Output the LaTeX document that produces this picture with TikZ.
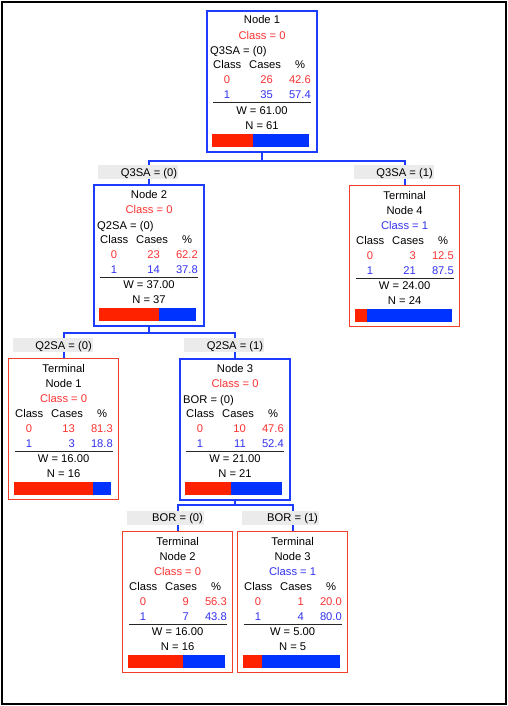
\documentclass[tikz,border=0pt]{standalone}
\usepackage{fontspec}
\setmainfont{Liberation Sans}
\usetikzlibrary{calc,backgrounds}
\definecolor{boxblue}{RGB}{30,60,255}
\definecolor{termred}{RGB}{240,64,40}
\definecolor{redtxt}{RGB}{250,50,50}
\definecolor{bluetxt}{RGB}{50,50,240}
\definecolor{barred}{RGB}{255,34,0}
\definecolor{barblue}{RGB}{0,51,255}
\definecolor{lblgray}{RGB}{235,235,235}
\newcommand\Stats[8]{%
  \node[txt,anchor=west] (#1-hc) at ($(#1.north west)+(7,55)$) {Class};
  \node[txt,anchor=west] (#1-hn) at ($(#1.north west)+(43,55)$) {Cases};
  \node[txt] (#1-hp) at ($(#1.north west)+(94,55)$) {\%};
  \node[txt,text=redtxt] (#1-a0) at ($(#1.north west)+(21,70)$) {0};
  \node[txt,text=redtxt,anchor=east] (#1-b0) at ($(#1.north west)+(67,70)$) {#2};
  \node[txt,text=redtxt,anchor=east] (#1-c0) at ($(#1.north west)+(105,70)$) {#3};
  \node[txt,text=bluetxt] (#1-a1) at ($(#1.north west)+(21,85)$) {1};
  \node[txt,text=bluetxt,anchor=east] (#1-b1) at ($(#1.north west)+(67,85)$) {#4};
  \node[txt,text=bluetxt,anchor=east] (#1-c1) at ($(#1.north west)+(105,85)$) {#5};
  \draw[seprule] ($(#1.north west)+(7,93)$) -- ($(#1.north west)+(105,93)$);
  \node[txt] (#1-w) at ($(#1.north)+(0,100)$) {W = #6};
  \node[txt] (#1-n) at ($(#1.north)+(0,115)$) {N = #7};
  \fill[barred] ($(#1.north west)+(6,124)$) rectangle ($(#1.north west)+(6+97*#8,137)$);
  \fill[barblue] ($(#1.north west)+(6+97*#8,124)$) rectangle ($(#1.north west)+(103,137)$);
}
\newcommand\SplitHead[4]{% name, node label, class line, split
  \node[txt] (#1-l1) at ($(#1.north)+(0,10)$) {#2};
  \node[txt] (#1-l2) at ($(#1.north)+(0,25.5)$) {#3};
  \node[txt,anchor=west] (#1-l3) at ($(#1.north west)+(4,41)$) {#4};
}
\newcommand\TermHead[3]{% name, node label, class line
  \node[txt] (#1-l1) at ($(#1.north)+(0,10)$) {Terminal};
  \node[txt] (#1-l2) at ($(#1.north)+(0,25)$) {#2};
  \node[txt] (#1-l3) at ($(#1.north)+(0,40.5)$) {#3};
}
\begin{document}
\begin{tikzpicture}[x=1pt,y=-1pt,
  txt/.style={inner sep=0pt,text height=8pt,text depth=0pt,font=\fontsize{11.2}{13}\selectfont},
  splitbox/.style={draw=boxblue,line width=2pt,minimum width=110pt,minimum height=141pt,inner sep=0pt,anchor=north west},
  termbox/.style={draw=termred,line width=1.2pt,minimum width=110pt,minimum height=141pt,inner sep=0pt,anchor=north west},
  seprule/.style={draw=black!85,line width=1pt},
  conn/.style={draw=boxblue,line width=2pt},
  lbltxt/.style={txt},
  lblfill/.style={fill=lblgray}]
\useasboundingbox (0,0) rectangle (508,706);
\draw[black,line width=1.4pt] (2,2) rectangle (506,704);

% boxes
\node[splitbox] (n1) at (206,10) {};
\node[splitbox] (n2) at (93,184) {};
\node[termbox] (t4) at (349,185) {};
\node[termbox] (t1) at (8,358) {};
\node[splitbox] (n3) at (179,358) {};
\node[termbox] (t2) at (122,531) {};
\node[termbox] (t3) at (237,531) {};

\SplitHead{n1}{Node 1}{\textcolor{redtxt}{Class = 0}}{Q3SA = (0)}
\Stats{n1}{26}{42.6}{35}{57.4}{61.00}{61}{0.426}
\SplitHead{n2}{Node 2}{\textcolor{redtxt}{Class = 0}}{Q2SA = (0)}
\Stats{n2}{23}{62.2}{14}{37.8}{37.00}{37}{0.622}
\TermHead{t4}{Node 4}{\textcolor{bluetxt}{Class = 1}}
\Stats{t4}{3}{12.5}{21}{87.5}{24.00}{24}{0.125}
\TermHead{t1}{Node 1}{\textcolor{redtxt}{Class = 0}}
\Stats{t1}{13}{81.3}{3}{18.8}{16.00}{16}{0.813}
\SplitHead{n3}{Node 3}{\textcolor{redtxt}{Class = 0}}{BOR = (0)}
\Stats{n3}{10}{47.6}{11}{52.4}{21.00}{21}{0.476}
\TermHead{t2}{Node 2}{\textcolor{redtxt}{Class = 0}}
\Stats{t2}{9}{56.3}{7}{43.8}{16.00}{16}{0.563}
\TermHead{t3}{Node 3}{\textcolor{bluetxt}{Class = 1}}
\Stats{t3}{1}{20.0}{4}{80.0}{5.00}{5}{0.2}

% split labels
\node[lbltxt] (l1) at (n2.north |- 0,172) {Q3SA = (0)};
\node[lbltxt] (l2) at (t4.north |- 0,172) {Q3SA = (1)};
\node[lbltxt] (l3) at (t1.north |- 0,345) {Q2SA = (0)};
\node[lbltxt] (l4) at (n3.north |- 0,345) {Q2SA = (1)};
\node[lbltxt] (l5) at (t2.north |- 0,517.5) {BOR = (0)};
\node[lbltxt] (l6) at (t3.north |- 0,517.5) {BOR = (1)};

\coordinate (h1) at (n1.south |- 0,160.5);
\coordinate (h2) at (n2.south |- 0,333);
\coordinate (h3) at (n3.south |- 0,505);

\begin{scope}[on background layer]
  \draw[conn] (n1.south) -- (h1) -| (n2.north);
  \draw[conn] (h1) -| (t4.north);
  \draw[conn] (n2.south) -- (h2) -| (t1.north);
  \draw[conn] (h2) -| (n3.north);
  \draw[conn] (n3.south) -- (h3) -| (t2.north);
  \draw[conn] (h3) -| (t3.north);
  \foreach \l in {l1,l2,l3,l4,l5,l6}
    \fill[lblfill] ([xshift=-51pt,yshift=7pt]\l.center) rectangle ([xshift=1pt,yshift=-7pt]\l.east);
\end{scope}
\end{tikzpicture}
\end{document}
